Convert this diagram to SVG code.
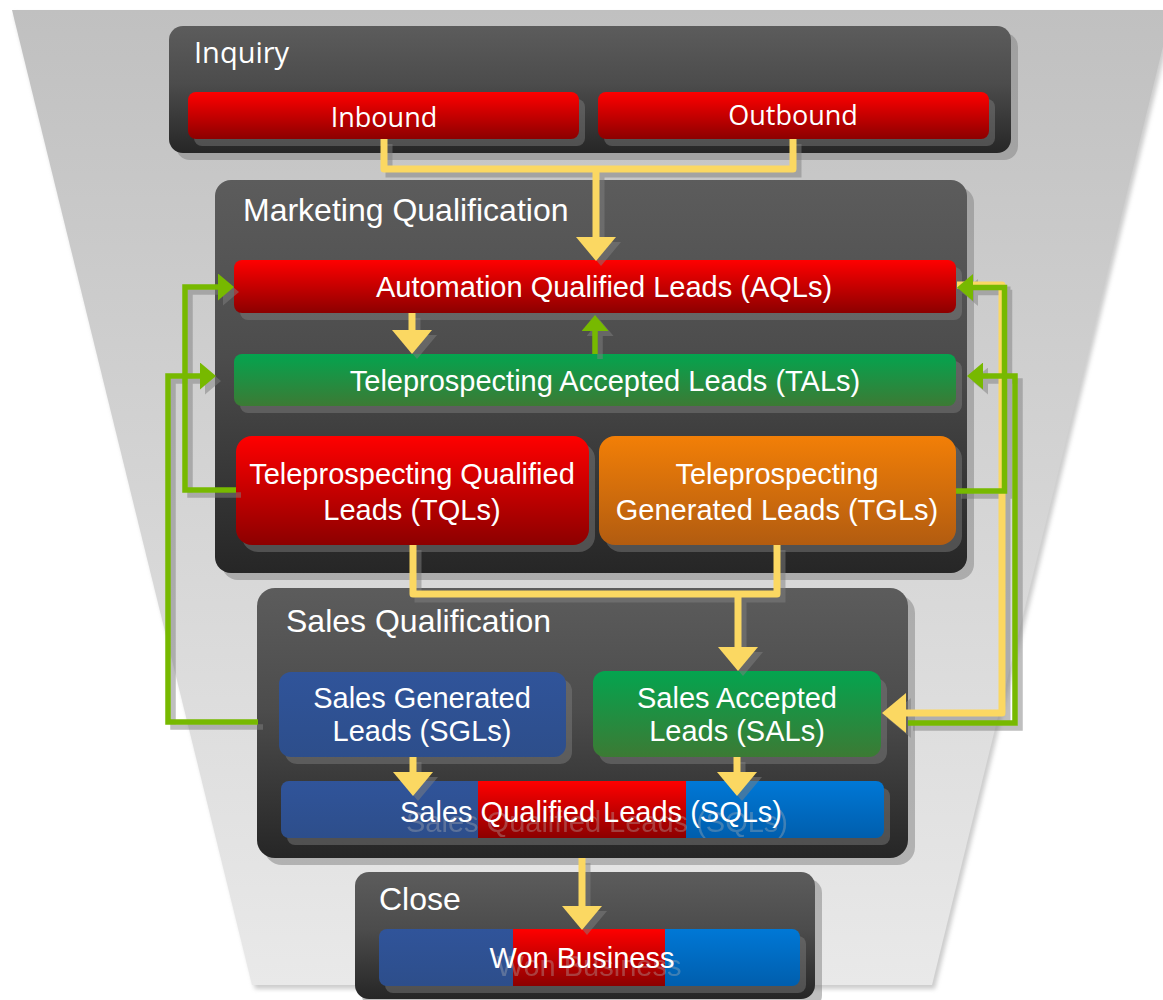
<svg xmlns="http://www.w3.org/2000/svg" width="1163" height="1000" viewBox="0 0 1163 1000">
  <defs>
    <linearGradient id="gFunnel" x1="0" y1="0" x2="0" y2="1">
      <stop offset="0" stop-color="#c0c0c0"/>
      <stop offset="1" stop-color="#e9e9e9"/>
    </linearGradient>
    <linearGradient id="gPanel" x1="0" y1="0" x2="0" y2="1">
      <stop offset="0" stop-color="#5c5c5c"/>
      <stop offset="0.45" stop-color="#4c4c4c"/>
      <stop offset="1" stop-color="#262626"/>
    </linearGradient>
    <linearGradient id="gRed" x1="0" y1="0" x2="0" y2="1">
      <stop offset="0" stop-color="#ff0000"/>
      <stop offset="1" stop-color="#8c0000"/>
    </linearGradient>
    <linearGradient id="gGreen" x1="0" y1="0" x2="0" y2="1">
      <stop offset="0" stop-color="#04a44f"/>
      <stop offset="1" stop-color="#3c7a34"/>
    </linearGradient>
    <linearGradient id="gOrange" x1="0" y1="0" x2="0" y2="1">
      <stop offset="0" stop-color="#f27f07"/>
      <stop offset="1" stop-color="#b25c10"/>
    </linearGradient>
    <linearGradient id="gNavy" x1="0" y1="0" x2="0" y2="1">
      <stop offset="0" stop-color="#30549a"/>
      <stop offset="1" stop-color="#2d4e8b"/>
    </linearGradient>
    <linearGradient id="gBlue" x1="0" y1="0" x2="0" y2="1">
      <stop offset="0" stop-color="#0078d6"/>
      <stop offset="1" stop-color="#005ead"/>
    </linearGradient>
    <filter id="blur2" x="-5%" y="-5%" width="110%" height="110%">
      <feGaussianBlur stdDeviation="2"/>
    </filter>
    <!-- arrowheads: path ends at the head base, marker draws the head -->
    <marker id="mY" viewBox="0 -20 24 40" refX="0" refY="0" markerWidth="24" markerHeight="40" markerUnits="userSpaceOnUse" orient="auto">
      <path d="M0,-20 L24,0 L0,20 Z" fill="#fbd862"/>
    </marker>
    <marker id="mG" viewBox="0 -13.5 16 27" refX="0" refY="0" markerWidth="16" markerHeight="27" markerUnits="userSpaceOnUse" orient="auto">
      <path d="M0,-13.5 L16,0 L0,13.5 Z" fill="#77b900"/>
    </marker>
    <marker id="mYs" viewBox="0 -20 24 40" refX="0" refY="0" markerWidth="24" markerHeight="40" markerUnits="userSpaceOnUse" orient="auto">
      <path d="M0,-20 L24,0 L0,20 Z" fill="#808080"/>
    </marker>
    <marker id="mGs" viewBox="0 -13.5 16 27" refX="0" refY="0" markerWidth="16" markerHeight="27" markerUnits="userSpaceOnUse" orient="auto">
      <path d="M0,-13.5 L16,0 L0,13.5 Z" fill="#808080"/>
    </marker>
    <clipPath id="clipSQL"><rect x="281" y="781" width="603" height="57" rx="8"/></clipPath>
    <clipPath id="clipWon"><rect x="379" y="929" width="421" height="57" rx="8"/></clipPath>
  </defs>
  <style>
    .panel { fill: url(#gPanel); }
    .pshadow { fill: #808080; opacity: 0.5; }
    .bshadow { fill: #808080; opacity: 0.45; }
    .red { fill: url(#gRed); }
    .green { fill: url(#gGreen); }
    .orange { fill: url(#gOrange); }
    .navy { fill: url(#gNavy); }
    .blue { fill: url(#gBlue); }
    .head { font-family: "Liberation Sans", Arial, sans-serif; font-size: 32px; fill: #ffffff; }
    .headS { font-family: "Open Sans", "Noto Sans", sans-serif; font-size: 29px; fill: #ffffff; }
    .lbl { font-family: "Liberation Sans", Arial, sans-serif; font-size: 29px; fill: #ffffff; text-anchor: middle; }
    .lblS { font-family: "Open Sans", "Noto Sans", sans-serif; font-size: 27px; fill: #ffffff; text-anchor: middle; }
    .ghost { font-family: "Liberation Sans", Arial, sans-serif; font-size: 29px; fill: #b4b4b4; opacity: 0.35; text-anchor: middle; }
    .y { fill: none; stroke: #fbd862; stroke-width: 7; stroke-linejoin: round; }
    .g { fill: none; stroke: #77b900; stroke-width: 5.5; stroke-linejoin: miter; }
    .ys { fill: none; stroke: #808080; stroke-width: 7; }
    .gs { fill: none; stroke: #808080; stroke-width: 5.5; }
  </style>

  <rect width="1163" height="1000" fill="#ffffff"/>

  <!-- funnel backdrop -->
  <g id="funnel">
    <polygon points="14,13 1175,13 935,989 255,989" fill="#9a9a9a" opacity="0.5" filter="url(#blur2)"/>
    <polygon points="12,10 1172,10 932,985 252,985" fill="url(#gFunnel)"/>
  </g>

  <!-- stage panels -->
  <g id="panel-inquiry">
    <rect class="pshadow" x="176" y="33" width="842" height="127" rx="14"/>
    <rect class="panel" x="169" y="26" width="842" height="127" rx="14"/>
    <text class="headS" x="194" y="63">Inquiry</text>
  </g>
  <g id="panel-marketing">
    <rect class="pshadow" x="222" y="187" width="752" height="393" rx="16"/>
    <rect class="panel" x="215" y="180" width="752" height="393" rx="16"/>
    <text class="head" x="243" y="221">Marketing Qualification</text>
  </g>
  <g id="panel-sales">
    <rect class="pshadow" x="264" y="595" width="651" height="270" rx="18"/>
    <rect class="panel" x="257" y="588" width="651" height="270" rx="18"/>
    <text class="head" x="286" y="632">Sales Qualification</text>
  </g>
  <g id="panel-close">
    <rect class="pshadow" x="362" y="879" width="460" height="130" rx="14"/>
    <rect class="panel" x="355" y="872" width="460" height="127" rx="14"/>
    <text class="head" x="379" y="910">Close</text>
  </g>

  <!-- lead nodes -->
  <g id="inbound">
    <rect class="bshadow" x="194" y="99" width="391" height="47" rx="8"/>
    <rect class="red" x="188" y="92" width="391" height="47" rx="8"/>
    <text class="lblS" x="384" y="127">Inbound</text>
  </g>
  <g id="outbound">
    <rect class="bshadow" x="604" y="99" width="391" height="47" rx="8"/>
    <rect class="red" x="598" y="92" width="391" height="47" rx="8"/>
    <text class="lblS" x="793" y="125">Outbound</text>
  </g>
  <g id="aql">
    <rect class="bshadow" x="240" y="267" width="722" height="53" rx="8"/>
    <rect class="red" x="234" y="260" width="722" height="53" rx="8"/>
    <text class="lbl" x="604" y="297">Automation Qualified Leads (AQLs)</text>
  </g>
  <g id="tal">
    <rect class="bshadow" x="240" y="361" width="722" height="52" rx="8"/>
    <rect class="green" x="234" y="354" width="722" height="52" rx="8"/>
    <text class="lbl" x="605" y="391">Teleprospecting Accepted Leads (TALs)</text>
  </g>
  <g id="tql">
    <rect class="bshadow" x="242" y="443" width="353" height="109" rx="16"/>
    <rect class="red" x="236" y="436" width="353" height="109" rx="16"/>
    <text class="lbl" x="412" y="484">Teleprospecting Qualified</text>
    <text class="lbl" x="412" y="520">Leads (TQLs)</text>
  </g>
  <g id="tgl">
    <rect class="bshadow" x="605" y="443" width="357" height="109" rx="16"/>
    <rect class="orange" x="599" y="436" width="357" height="109" rx="16"/>
    <text class="lbl" x="777" y="484">Teleprospecting</text>
    <text class="lbl" x="777" y="520">Generated Leads (TGLs)</text>
  </g>
  <g id="sgl">
    <rect class="bshadow" x="285" y="679" width="287" height="85" rx="12"/>
    <rect class="navy" x="279" y="672" width="287" height="85" rx="12"/>
    <text class="lbl" x="422" y="708">Sales Generated</text>
    <text class="lbl" x="422" y="741">Leads (SGLs)</text>
  </g>
  <g id="sal">
    <rect class="bshadow" x="599" y="678" width="288" height="86" rx="12"/>
    <rect class="green" x="593" y="671" width="288" height="86" rx="12"/>
    <text class="lbl" x="737" y="708">Sales Accepted</text>
    <text class="lbl" x="737" y="741">Leads (SALs)</text>
  </g>
  <g id="sql">
    <rect class="bshadow" x="287" y="788" width="603" height="57" rx="8"/>
    <g clip-path="url(#clipSQL)">
      <rect class="navy" x="281" y="781" width="197" height="57"/>
      <rect class="red" x="478" y="781" width="208" height="57"/>
      <rect class="blue" x="686" y="781" width="198" height="57"/>
      <text class="ghost" x="597" y="832">Sales Qualified Leads (SQLs)</text>
    </g>
    <text class="lbl" x="591" y="822">Sales Qualified Leads (SQLs)</text>
  </g>
  <g id="won">
    <rect class="bshadow" x="385" y="936" width="421" height="57" rx="8"/>
    <g clip-path="url(#clipWon)">
      <rect class="navy" x="379" y="929" width="134" height="57"/>
      <rect class="red" x="513" y="929" width="152" height="57"/>
      <rect class="blue" x="665" y="929" width="135" height="57"/>
      <text class="ghost" x="589" y="976">Won Business</text>
    </g>
    <text class="lbl" x="582" y="968">Won Business</text>
  </g>

  <!-- connectors -->
  <g id="connectors">
    <g id="connector-shadows" transform="translate(5,5)" opacity="0.5">
      <path class="ys" d="M384,139 V169 H793 V139 M596,169 V237" marker-end="url(#mYs)"/>
      <path class="ys" d="M412,313 V330" marker-end="url(#mYs)"/>
      <path class="gs" d="M595,354 V331" marker-end="url(#mGs)"/>
      <path class="ys" d="M413,545 V594 H738 M777,545 V594 H738 V647" marker-end="url(#mYs)"/>
      <path class="ys" d="M957,285 H1002 V713 H906" marker-end="url(#mYs)"/>
      <path class="gs" d="M236,490 H185 V287 H218" marker-end="url(#mGs)"/>
      <path class="gs" d="M258,722 H168 V376 H200" marker-end="url(#mGs)"/>
      <path class="gs" d="M956,491 H1004.5 V287.5 H973" marker-end="url(#mGs)"/>
      <path class="gs" d="M908,723 H1015 V376 H983" marker-end="url(#mGs)"/>
      <path class="ys" d="M413,757 V772" marker-end="url(#mYs)"/>
      <path class="ys" d="M737,757 V772" marker-end="url(#mYs)"/>
      <path class="ys" d="M582,858 V906" marker-end="url(#mYs)"/>
    </g>
    <path class="y" d="M384,139 V169 H793 V139 M596,169 V237" marker-end="url(#mY)"/>
    <path class="y" d="M412,313 V330" marker-end="url(#mY)"/>
    <path class="y" d="M413,545 V594 H738 M777,545 V594 H738 V647" marker-end="url(#mY)"/>
    <path class="y" d="M957,285 H1002 V713 H906" marker-end="url(#mY)"/>
    <path class="y" d="M413,757 V772" marker-end="url(#mY)"/>
    <path class="y" d="M737,757 V772" marker-end="url(#mY)"/>
    <path class="y" d="M582,858 V906" marker-end="url(#mY)"/>
    <path class="g" d="M595,354 V331" marker-end="url(#mG)"/>
    <path class="g" d="M236,490 H185 V287 H218" marker-end="url(#mG)"/>
    <path class="g" d="M258,722 H168 V376 H200" marker-end="url(#mG)"/>
    <path class="g" d="M956,491 H1004.5 V287.5 H973" marker-end="url(#mG)"/>
    <path class="g" d="M908,723 H1015 V376 H983" marker-end="url(#mG)"/>
  </g>
</svg>
